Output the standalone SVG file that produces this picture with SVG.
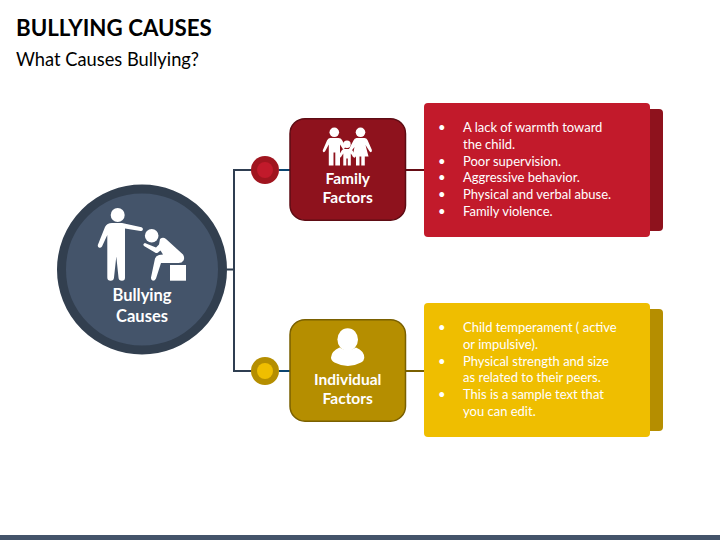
<svg xmlns="http://www.w3.org/2000/svg" width="720" height="540" viewBox="0 0 720 540">
<style>
text{font-family:"Lato","Noto Sans","Liberation Sans",sans-serif}
.title{font-size:22.300px;font-weight:700;fill:#000}
.sub{font-size:18.300px;fill:#000}
.lab{font-size:15.500px;font-weight:700;fill:#fff;text-anchor:middle}
.body{font-size:13px;fill:#fff}
.ic{fill:#fff}
.con{fill:none;stroke-width:2}
</style>
<rect width="720" height="540" fill="#fff"/>
<rect y="535" width="720" height="5" fill="#44546a"/>
<text class="title" x="16" y="36">BULLYING CAUSES</text>
<text class="sub" x="16" y="65.500">What Causes Bullying?</text>
<g id="connectors">
<path class="con" stroke="#2f3e51" d="M227 269.500H234M265 170H234V371H265"/>
<path class="con" stroke="#0b4470" d="M279 170H290M279 371H290"/>
<path class="con" stroke="#650c15" d="M405 170H424"/>
<path class="con" stroke="#7a6000" d="M405 371H424"/>
</g>
<g id="node-bullying-causes">
<circle cx="142" cy="269.500" r="80.500" fill="#44546a" stroke="#323f4f" stroke-width="9"/>
<circle class="ic" cx="117.700" cy="215" r="7"/>
<path class="ic" d="M112 223H122L141.500 227.300Q143.300 228 142.800 229.800Q142.300 231.300 140.500 231L125 228.500V277.500Q125 280.700 122 280.700Q118.700 280.700 118.500 277.500L116.300 256.500L114 277.500Q113.700 280.700 110.700 280.700Q107.300 280.700 107.300 277.500V235L102 246.500Q100.500 248.500 98.800 247.500Q97.300 246.500 98 244.500L105 227Q107 223 112 223Z"/>
<circle class="ic" cx="151.700" cy="235.700" r="6.800"/>
<path class="ic" d="M160 239Q163 236.500 166 239L183 254.500Q185 257.500 183.500 260.500Q182 263 178.500 263H161L156 278.500Q155 280.700 153 280.700Q150.700 280.200 151 277.500L155 258.500Q156 255.500 159 255L163 254.500L160.500 250.500L158 252.500Q156.500 253.500 155 252.500L144 246Q142.800 245 143.800 243.700Q144.800 242.600 146 243.400L156 247.500L159 244.500Z"/>
<rect class="ic" x="170" y="265" width="16" height="15.700"/>
<text class="lab" style="font-size:16.500px" x="142" y="300.700">Bullying</text>
<text class="lab" style="font-size:16.500px" x="142" y="321.700">Causes</text>
</g>
<g id="node-family-dot">
<circle cx="265" cy="170" r="14" fill="#a0151f"/>
<circle cx="265" cy="170" r="8" fill="#c21a2b"/>
</g>
<g id="node-individual-dot">
<circle cx="265" cy="371" r="14" fill="#b58e00"/>
<circle cx="265" cy="371" r="8" fill="#efbe00"/>
</g>
<g id="node-family-factors">
<rect x="290" y="118.700" width="115.500" height="101.500" rx="15" fill="#8e121d" stroke="#5e0c14" stroke-width="1.500"/>
<circle class="ic" cx="334.300" cy="132.300" r="4.800"/>
<path class="ic" d="M330 138H338.500Q341 138 342 140L345.500 146.500L343.500 150L340 144.500V165.500H335.300V152.500H333.500V165.500H328.800V144.500L325.300 151Q324.500 152.500 323.300 152Q322.200 151.300 323 149.800L327 140.500Q328 138 330 138Z"/>
<circle class="ic" cx="360.500" cy="132.300" r="4.800"/>
<path class="ic" d="M356.500 138H364.500Q366.500 138 367.500 140L371.800 149.800Q372.300 151.500 371.200 152Q370 152.500 369.300 151L365.500 145L368.500 156.500H364.800V165.500H361.300V156.500H359.500V165.500H356V156.500H352.500L354.500 147L351 151.500L349 149L353.500 140.500Q354.500 138 356.500 138Z"/>
<circle class="ic" cx="347" cy="144.300" r="3.700"/>
<path class="ic" d="M344 149H350Q351.500 149 352.500 150.500L355.500 155.500Q356 157 355 157.500Q354 158 353.200 156.800L350.800 153.500V165.500H347.800V158.500H346.300V165.500H343.300V153.500L341 157Q340 158 339 157.500Q338 156.800 338.700 155.500L341.700 150.500Q342.500 149 344 149Z"/>
<text class="lab" x="347.700" y="184.300">Family</text>
<text class="lab" x="347.700" y="203">Factors</text>
</g>
<g id="node-individual-factors">
<rect x="290" y="319.700" width="115.500" height="101.500" rx="15" fill="#b58e00" stroke="#7a6000" stroke-width="1.500"/>
<ellipse class="ic" cx="347.700" cy="339.500" rx="10.300" ry="11.300"/>
<path class="ic" d="M339.500 347.500Q347.500 352.500 356 347.500Q364.500 351 364.300 358Q364 361 361 362.500Q348 369.500 334.500 362.500Q331 360.500 331 357.500Q331.500 351 339.500 347.500Z"/>
<text class="lab" x="347.700" y="384.500">Individual</text>
<text class="lab" x="347.700" y="403.500">Factors</text>
</g>
<g id="node-family-text">
<rect x="630" y="109" width="33" height="122" rx="4" fill="#8e121d"/>
<rect x="424" y="103" width="226" height="134" rx="4" fill="#c21a2b"/>
<text class="body" x="438" y="132">•</text><text class="body" x="463" y="132">A lack of warmth toward</text>
<text class="body" x="463" y="149">the child.</text>
<text class="body" x="438" y="165.700">•</text><text class="body" x="463" y="165.700">Poor supervision.</text>
<text class="body" x="438" y="182.300">•</text><text class="body" x="463" y="182.300">Aggressive behavior.</text>
<text class="body" x="438" y="199">•</text><text class="body" x="463" y="199">Physical and verbal abuse.</text>
<text class="body" x="438" y="215.700">•</text><text class="body" x="463" y="215.700">Family violence.</text>
</g>
<g id="node-individual-text">
<rect x="630" y="309" width="33" height="122" rx="4" fill="#b58e00"/>
<rect x="424" y="303" width="226" height="134" rx="4" fill="#efbe00"/>
<text class="body" x="438" y="332">•</text><text class="body" x="463" y="332">Child temperament ( active</text>
<text class="body" x="463" y="349">or impulsive).</text>
<text class="body" x="438" y="365.700">•</text><text class="body" x="463" y="365.700">Physical strength and size</text>
<text class="body" x="463" y="382.300">as related to their peers.</text>
<text class="body" x="438" y="399">•</text><text class="body" x="463" y="399">This is a sample text that</text>
<text class="body" x="463" y="415.700">you can edit.</text>
</g>
</svg>
